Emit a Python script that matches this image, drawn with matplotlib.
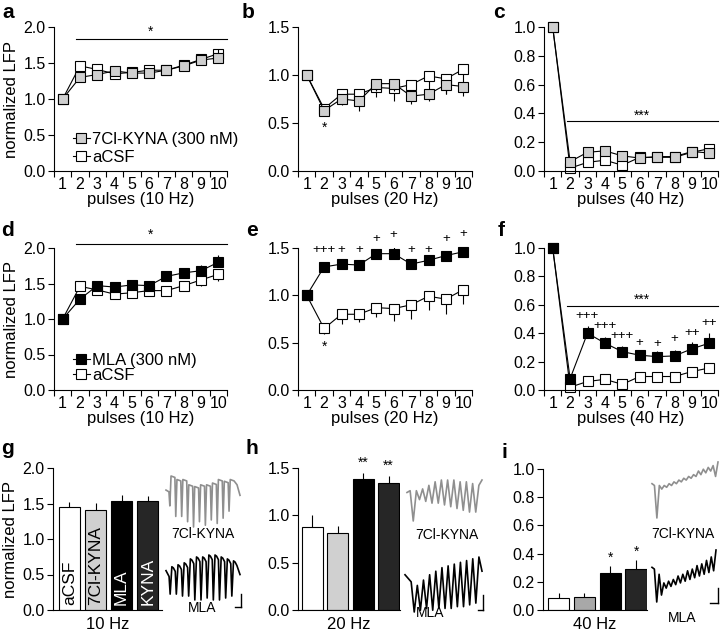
import matplotlib
matplotlib.use('Agg')
import matplotlib.pyplot as plt
import numpy as np
from matplotlib.ticker import FormatStrFormatter
from matplotlib.lines import Line2D

plt.rcParams['font.family'] = ['Liberation Sans', 'DejaVu Sans']

W, H = 720, 634

pulses = np.arange(1, 11)

# normalized LFP per pulse (mean, error)
acsf_10 = [1.0, 1.46, 1.41, 1.35, 1.37, 1.40, 1.40, 1.47, 1.55, 1.63]
acsf_10_err = [0, 0.05, 0.05, 0.05, 0.05, 0.05, 0.05, 0.06, 0.08, 0.10]
kyna7_10 = [1.0, 1.30, 1.34, 1.39, 1.36, 1.36, 1.40, 1.46, 1.54, 1.57]
kyna7_10_err = [0, 0.04, 0.05, 0.05, 0.04, 0.05, 0.06, 0.06, 0.07, 0.12]
mla_10 = [1.0, 1.28, 1.47, 1.45, 1.48, 1.47, 1.60, 1.65, 1.68, 1.80]
mla_10_err = [0, 0.05, 0.04, 0.05, 0.06, 0.05, 0.05, 0.06, 0.08, 0.10]

acsf_20 = [1.0, 0.65, 0.80, 0.80, 0.87, 0.86, 0.90, 0.99, 0.96, 1.06]
acsf_20_err = [0, 0.06, 0.10, 0.08, 0.10, 0.13, 0.15, 0.15, 0.16, 0.15]
kyna7_20 = [1.0, 0.63, 0.75, 0.73, 0.91, 0.91, 0.78, 0.80, 0.90, 0.88]
kyna7_20_err = [0, 0.05, 0.06, 0.10, 0.08, 0.08, 0.08, 0.07, 0.10, 0.10]
mla_20 = [1.0, 1.30, 1.33, 1.32, 1.44, 1.44, 1.33, 1.37, 1.42, 1.46]
mla_20_err = [0, 0.04, 0.05, 0.05, 0.05, 0.07, 0.05, 0.05, 0.05, 0.07]

acsf_40 = [1.0, 0.02, 0.06, 0.075, 0.04, 0.095, 0.095, 0.095, 0.13, 0.155]
acsf_40_err = [0, 0.01, 0.01, 0.02, 0.01, 0.01, 0.01, 0.01, 0.01, 0.01]
kyna7_40 = [1.0, 0.065, 0.13, 0.14, 0.105, 0.09, 0.10, 0.10, 0.135, 0.125]
kyna7_40_err = [0, 0.02, 0.02, 0.02, 0.02, 0.01, 0.01, 0.01, 0.01, 0.02]
mla_40 = [1.0, 0.08, 0.40, 0.33, 0.27, 0.245, 0.235, 0.24, 0.29, 0.33]
mla_40_err = [0, 0.02, 0.05, 0.04, 0.04, 0.04, 0.04, 0.04, 0.05, 0.07]

# post hoc marks (MLA vs aCSF)
plus_20_x = [2, 3, 4, 5, 6, 7, 8, 9, 10]
plus_20_txt = ['+++', '+', '+', '+', '+', '+', '+', '+', '+']
plus_20_y = [1.475, 1.475, 1.475, 1.60, 1.64, 1.475, 1.475, 1.59, 1.65]
plus_40_x = [3, 4, 5, 6, 7, 8, 9, 10]
plus_40_txt = ['+++', '+++', '+++', '+', '+', '+', '++', '++']
plus_40_y = [0.52, 0.45, 0.38, 0.33, 0.325, 0.36, 0.40, 0.47]

# bar summaries
groups = ['aCSF', '7Cl-KYNA', 'MLA', 'KYNA']
bar_10 = [1.45, 1.41, 1.54, 1.54]
bar_10_err = [0.07, 0.10, 0.08, 0.06]
bar_20 = [0.88, 0.81, 1.38, 1.34]
bar_20_err = [0.12, 0.08, 0.07, 0.08]
bar_20_sig = ['', '', '**', '**']
bar_40 = [0.088, 0.095, 0.265, 0.29]
bar_40_err = [0.03, 0.025, 0.045, 0.065]
bar_40_sig = ['', '', '*', '*']

# example traces: pre-stimulus samples, troughs, peaks, tail (arbitrary units)
tr10_kyna = dict(pre=[11.0, 10.5],
                 troughs=[6.5, 3.5, 3.5, 2.0, 0.5, 2.0, 1.0, 2.5, 1.5, 3.0, 5.0],
                 peaks=[15.0, 14.0, 14.0, 12.5, 12.0, 12.5, 12.5, 13.0, 14.0, 13.5, 14.0],
                 post=[12.5, 9.5])
tr10_mla = dict(pre=[9.0, 7.5],
                troughs=[3.0, 3.0, 2.5, 2.5, 1.5, 1.5, 2.0, 1.5, 1.5, 2.0, 2.5],
                peaks=[10.0, 10.5, 11.0, 12.0, 12.5, 12.5, 13.0, 13.0, 12.5, 12.0, 11.5],
                post=[8.0])
tr20_kyna = dict(pre=[9.0, 9.5],
                 troughs=[1.0, 7.0, 6.5, 6.0, 6.0, 5.5, 5.0, 4.5, 4.0, 3.5, 3.5],
                 peaks=[9.5, 10.0, 11.0, 12.0, 12.5, 12.5, 12.5, 12.0, 12.0, 11.5, 11.0],
                 post=[12.5])
tr20_mla = dict(pre=[12.0, 11.0, 10.0],
                troughs=[1.5, 2.0, 2.5, 2.0, 2.5, 2.5, 2.5, 3.0, 3.0, 3.5, 4.0],
                peaks=[9.0, 10.5, 12.0, 13.0, 14.0, 14.5, 15.0, 15.5, 16.0, 16.5, 17.0],
                post=[13.0])
tr40_kyna = dict(pre=[10.5, 10.0],
                 troughs=[1.0, 9.0, 9.5, 10.0, 10.5, 11.0, 11.5, 12.0, 12.5, 13.0, 13.5, 14.0, 12.5],
                 peaks=[10.0, 10.0, 10.5, 11.0, 11.5, 12.0, 12.5, 13.0, 14.0, 14.5, 15.0, 15.5, 16.5],
                 post=[])
tr40_mla = dict(pre=[11.0, 10.5],
                troughs=[1.0, 3.0, 5.0, 5.5, 6.0, 6.5, 7.0, 7.5, 8.0, 8.5, 9.0, 9.5, 10.0],
                peaks=[9.0, 6.5, 7.0, 7.5, 8.5, 9.0, 10.0, 10.5, 11.5, 12.0, 13.0, 14.0, 16.0],
                post=[])


def px_rect(x0, y0, x1, y1):
    return [x0 / W, 1 - y1 / H, (x1 - x0) / W, (y1 - y0) / H]


def base_axes(ax, ymax, ystep):
    for s in ['top', 'right']:
        ax.spines[s].set_visible(False)
    for s in ['left', 'bottom']:
        ax.spines[s].set_linewidth(0.8)
    ax.set_ylim(0, ymax)
    ax.set_yticks(np.arange(0, ymax + 1e-9, ystep))
    ax.yaxis.set_major_formatter(FormatStrFormatter('%.1f'))
    ax.tick_params(direction='out', length=4, width=0.8, labelsize=11.5, pad=2)


def line_panel(ax, ymax, ystep, hz):
    base_axes(ax, ymax, ystep)
    ax.set_xlim(0.5, 10.5)
    ax.set_xticks(np.arange(0.5, 11, 1))
    ax.set_xticklabels([])
    ax.set_xticks(pulses, minor=True)
    ax.set_xticklabels([str(p) for p in pulses], minor=True)
    ax.tick_params(axis='x', which='minor', length=0, labelsize=11.5, pad=4)
    ax.set_xlabel('pulses (%d Hz)' % hz, fontsize=12, labelpad=0)


def series(ax, y, err, face, up, z, label=None):
    e = np.array(err)
    yerr = [np.zeros_like(e), e] if up else [e, np.zeros_like(e)]
    ax.errorbar(pulses, y, yerr=yerr, fmt='none', ecolor='black',
                elinewidth=0.8, capsize=0, zorder=z)
    ax.plot(pulses, y, '-s', color='black', lw=0.8, mfc=face, mec='black',
            mew=0.8, ms=6.5, zorder=z + 0.5, clip_on=False, label=label)


def sig_line(ax, y, txt, ystar):
    ax.plot([1.8, 10.5], [y, y], color='black', lw=0.8, clip_on=False)
    ax.text(6.1, ystar, txt, ha='center', va='center', fontsize=10)


def bar_panel(ax, vals, err, colors, ymax, ystep, hz, xl):
    base_axes(ax, ymax, ystep)
    x = np.arange(len(vals))
    ax.errorbar(x, vals, yerr=[np.zeros(len(err)), err], fmt='none',
                ecolor='black', elinewidth=0.8, capsize=0, zorder=1)
    ax.bar(x, vals, width=0.83, color=colors, edgecolor='black', lw=0.8, zorder=2)
    ax.set_xlim(*xl)
    ax.set_xticks([])
    ax.set_xlabel('%d Hz' % hz, fontsize=12, labelpad=5)
    return x


def build_trace(tr, kind):
    t = list(range(len(tr['pre'])))
    v = list(tr['pre'])
    t0 = len(tr['pre']) - 1
    for lo, hi in zip(tr['troughs'], tr['peaks']):
        if kind == 'spike':
            t += [t0 + 0.3, t0 + 0.7, t0 + 2.0]
            v += [lo, hi, hi - 0.4]
        elif kind == 'arch':
            t += [t0 + 0.35, t0 + 0.9, t0 + 1.4, t0 + 2.0]
            v += [lo, hi, hi - 0.3, hi - 1.2]
        else:
            t += [t0 + 1.0, t0 + 2.0]
            v += [lo, hi]
        t0 += 2.0
    for val in tr['post']:
        t0 += 1
        t.append(t0)
        v.append(val)
    return t, v


def trace(rect, tr, kind, color, lw=1.2):
    ax = fig.add_axes(px_rect(*rect))
    t, v = build_trace(tr, kind)
    ax.plot(t, v, color=color, lw=lw, solid_joinstyle='round', clip_on=False)
    ax.set_xlim(min(t), max(t))
    ax.set_ylim(min(v), max(v))
    ax.axis('off')
    return ax


def scale_bar(x, y0, y1, x0):
    fig.add_artist(Line2D([x / W, x / W], [1 - y0 / H, 1 - y1 / H], color='black', lw=1.0))
    fig.add_artist(Line2D([x0 / W, x / W], [1 - y1 / H, 1 - y1 / H], color='black', lw=1.0))


fig = plt.figure(figsize=(7.2, 6.34), dpi=100)

# row 1: 7Cl-KYNA vs aCSF
ax_a = fig.add_axes(px_rect(54, 27, 227, 171))
line_panel(ax_a, 2.0, 0.5, 10)
series(ax_a, acsf_10, acsf_10_err, 'white', False, 2, 'aCSF')
series(ax_a, kyna7_10, kyna7_10_err, '#cfcfcf', True, 3, '7Cl-KYNA (300 nM)')
sig_line(ax_a, 1.83, '*', 1.93)
h, l = ax_a.get_legend_handles_labels()
ax_a.legend(h[::-1], l[::-1], loc='lower left', bbox_to_anchor=(0.11, 0.04), frameon=False,
            fontsize=12, handlelength=1.0, handletextpad=0.15, labelspacing=0.2,
            borderpad=0, borderaxespad=0)
ax_a.set_ylabel('normalized LFP', fontsize=12, labelpad=3)

ax_b = fig.add_axes(px_rect(298, 27, 472, 171))
line_panel(ax_b, 1.5, 0.5, 20)
series(ax_b, acsf_20, acsf_20_err, 'white', False, 2)
series(ax_b, kyna7_20, kyna7_20_err, '#cfcfcf', False, 3)
ax_b.text(2, 0.45, '*', ha='center', va='center', fontsize=10)

ax_c = fig.add_axes(px_rect(544, 27, 718, 171))
line_panel(ax_c, 1.0, 0.2, 40)
series(ax_c, acsf_40, acsf_40_err, 'white', False, 2)
series(ax_c, kyna7_40, kyna7_40_err, '#cfcfcf', True, 3)
sig_line(ax_c, 0.345, '***', 0.385)

# row 2: MLA vs aCSF
ax_d = fig.add_axes(px_rect(54, 248, 227, 390))
line_panel(ax_d, 2.0, 0.5, 10)
series(ax_d, acsf_10, acsf_10_err, 'white', False, 2, 'aCSF')
series(ax_d, mla_10, mla_10_err, 'black', True, 3, 'MLA (300 nM)')
sig_line(ax_d, 2.06, '*', 2.18)
h, l = ax_d.get_legend_handles_labels()
ax_d.legend(h[::-1], l[::-1], loc='lower left', bbox_to_anchor=(0.11, 0.05), frameon=False,
            fontsize=12, handlelength=1.0, handletextpad=0.15, labelspacing=0.0,
            borderpad=0, borderaxespad=0)
ax_d.set_ylabel('normalized LFP', fontsize=12, labelpad=3)

ax_e = fig.add_axes(px_rect(298, 248, 472, 390))
line_panel(ax_e, 1.5, 0.5, 20)
series(ax_e, acsf_20, acsf_20_err, 'white', False, 2)
series(ax_e, mla_20, mla_20_err, 'black', True, 3)
ax_e.text(2, 0.46, '*', ha='center', va='center', fontsize=10)
for x, s, y in zip(plus_20_x, plus_20_txt, plus_20_y):
    ax_e.text(x, y, s, ha='center', va='center', fontsize=9.5)

ax_f = fig.add_axes(px_rect(544, 248, 718, 390))
line_panel(ax_f, 1.0, 0.2, 40)
series(ax_f, acsf_40, acsf_40_err, 'white', True, 2)
series(ax_f, mla_40, mla_40_err, 'black', True, 3)
sig_line(ax_f, 0.59, '***', 0.635)
for x, s, y in zip(plus_40_x, plus_40_txt, plus_40_y):
    ax_f.text(x, y, s, ha='center', va='center', fontsize=9.5)

# row 3: bar summaries
ax_g = fig.add_axes(px_rect(53, 468, 162, 610))
xg = bar_panel(ax_g, bar_10, bar_10_err, ['white', '#d0d0d0', 'black', '#262626'],
               2.0, 0.5, 10, (-0.63, 3.55))
for x, name, c in zip(xg, groups, ['black', 'black', 'white', 'white']):
    ax_g.text(x, 0.07, name, rotation=90, ha='center', va='bottom', fontsize=12.5, color=c)
ax_g.set_ylabel('normalized LFP', fontsize=12, labelpad=3)

ax_h = fig.add_axes(px_rect(298, 468, 400, 610))
xh = bar_panel(ax_h, bar_20, bar_20_err, ['white', '#d0d0d0', 'black', '#262626'],
               1.5, 0.5, 20, (-0.57, 3.45))
for x, v, e, s in zip(xh, bar_20, bar_20_err, bar_20_sig):
    ax_h.text(x, v + e + 0.03, s, ha='center', va='bottom', fontsize=10)

ax_i = fig.add_axes(px_rect(543, 469, 647, 610))
xi = bar_panel(ax_i, bar_40, bar_40_err, ['white', '#a8a8a8', 'black', '#262626'],
               1.0, 0.2, 40, (-0.6, 3.42))
for x, v, e, s in zip(xi, bar_40, bar_40_err, bar_40_sig):
    ax_i.text(x, v + e + 0.01, s, ha='center', va='bottom', fontsize=10)

# example traces
gray_tr = '#8f8f8f'
trace((166, 476, 240, 527), tr10_kyna, 'spike', gray_tr)
trace((166, 555, 240, 600), tr10_mla, 'arch', 'black')
trace((407, 480, 482, 521), tr20_kyna, 'zigzag', gray_tr)
trace((405, 557, 482, 612), tr20_mla, 'zigzag', 'black')
trace((652, 462, 718, 518), tr40_kyna, 'zigzag', gray_tr)
trace((652, 550, 716, 602), tr40_mla, 'zigzag', 'black')

for (x, y, s) in [(203, 534, '7Cl-KYNA'), (202, 608, 'MLA'),
                  (447, 535, '7Cl-KYNA'), (430, 613, 'MLA'),
                  (683, 534, '7Cl-KYNA'), (682, 618, 'MLA')]:
    fig.text(x / W, 1 - y / H, s, ha='center', va='center', fontsize=10)

scale_bar(241, 594, 607, 235)
scale_bar(483, 595, 610, 478)
scale_bar(718, 588, 603, 710)

# panel letters
for (x, y, s) in [(8, 12, 'a'), (248, 12, 'b'), (499, 13, 'c'),
                  (8, 231, 'd'), (252, 231, 'e'), (501, 230, 'f'),
                  (7, 449, 'g'), (252, 448, 'h'), (504, 452, 'i')]:
    fig.text(x / W, 1 - y / H, s, ha='center', va='center', fontsize=15, fontweight='bold')

fig.savefig('out.png', dpi=100)
